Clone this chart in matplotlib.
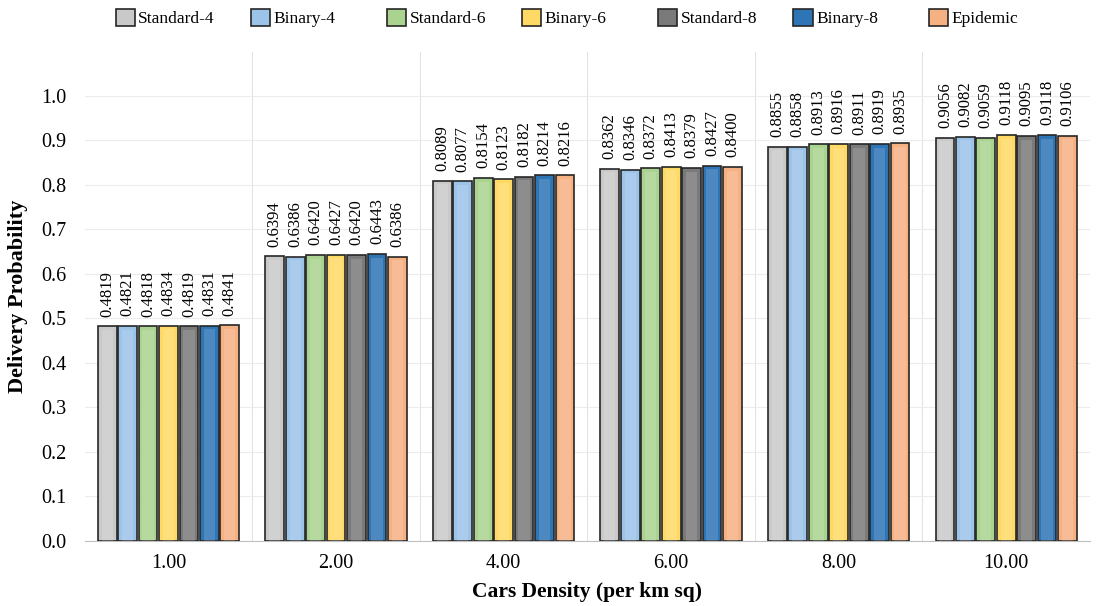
import numpy as np
import matplotlib.pyplot as plt
from matplotlib.patches import Patch

plt.rcParams['font.family'] = ['Liberation Serif', 'DejaVu Serif']

# densities on the x axis
densities = ['1.00', '2.00', '4.00', '6.00', '8.00', '10.00']

series = ['Standard-4', 'Binary-4', 'Standard-6', 'Binary-6',
          'Standard-8', 'Binary-8', 'Epidemic']

standard4 = [0.4819, 0.6394, 0.8089, 0.8362, 0.8855, 0.9056]
binary4 = [0.4821, 0.6386, 0.8077, 0.8346, 0.8858, 0.9082]
standard6 = [0.4818, 0.6420, 0.8154, 0.8372, 0.8913, 0.9059]
binary6 = [0.4834, 0.6427, 0.8123, 0.8413, 0.8916, 0.9118]
standard8 = [0.4819, 0.6420, 0.8182, 0.8379, 0.8911, 0.9095]
binary8 = [0.4831, 0.6443, 0.8214, 0.8427, 0.8919, 0.9118]
epidemic = [0.4841, 0.6386, 0.8216, 0.8400, 0.8935, 0.9106]

values = [standard4, binary4, standard6, binary6, standard8, binary8, epidemic]
colors = ['#c9c9c9', '#9cc3e8', '#a9d38f', '#ffd966',
          '#7a7a7a', '#2e75b6', '#f6b183']

fig, ax = plt.subplots(figsize=(11.01, 6.06), dpi=100)
fig.subplots_adjust(left=0.077, right=0.99, bottom=0.108, top=0.915)

x = np.arange(len(densities))
slot = 0.122
width = 0.112
for i, (name, vals, c) in enumerate(zip(series, values, colors)):
    pos = x + (i - 3) * slot
    ax.bar(pos, vals, width, color=c, edgecolor='#262626', linewidth=1.2,
           label=name, zorder=3)
    # lighter inner panel to hint at the bevel
    ax.bar(pos, np.array(vals) - 0.008, width * 0.6, bottom=0.0,
           color='white', alpha=0.15, linewidth=0, zorder=4)
    for p, v in zip(pos, vals):
        ax.text(p, v + 0.022, f'{v:.4f}', rotation=90, ha='center',
                va='bottom', fontsize=12, zorder=5)

ax.set_xlim(-0.5, len(densities) - 0.5)
ax.set_ylim(0, 1.1)
ax.set_yticks(np.arange(0, 1.01, 0.1))
ax.set_yticklabels([f'{t:.1f}' for t in np.arange(0, 1.01, 0.1)], fontsize=14.5)
ax.set_xticks(x)
ax.set_xticklabels(densities, fontsize=14.5)
ax.set_xticks(np.arange(0.5, len(densities) - 1, 1), minor=True)

ax.tick_params(axis='y', which='both', length=0, pad=13)
ax.tick_params(axis='x', which='both', length=0, pad=10)
ax.grid(axis='y', color='#ececec', linewidth=0.8, zorder=0)
ax.grid(axis='x', which='minor', color='#e3e3e3', linewidth=0.8, zorder=0)
for s in ['top', 'right', 'left']:
    ax.spines[s].set_visible(False)
ax.spines['bottom'].set_color('#bfbfbf')

ax.set_xlabel('Cars Density (per km sq)', fontsize=15.5, fontweight='bold', labelpad=6)
ax.set_ylabel('Delivery Probability', fontsize=16, fontweight='bold', labelpad=10)

# one legend entry per equal-width column, like the original
for i, (name, c) in enumerate(zip(series, colors)):
    h = Patch(facecolor=c, edgecolor='#262626', linewidth=1.2)
    fig.legend([h], [name], loc='upper left',
               bbox_to_anchor=(0.102 + i * 0.1231, 0.991),
               frameon=False, fontsize=12.5, handlelength=1.1,
               handleheight=1.1, handletextpad=0.2,
               borderpad=0.2, borderaxespad=0)

fig.savefig('out.png', dpi=100)
